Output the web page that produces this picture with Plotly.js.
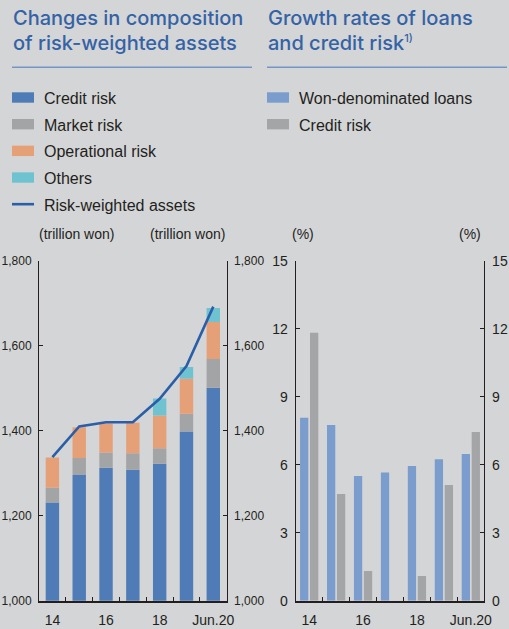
<!DOCTYPE html>
<html>
<head>
<meta charset="utf-8">
<script src="https://cdn.plot.ly/plotly-3.0.1.min.js"></script>
<style>
  html, body { margin: 0; padding: 0; background: #d4d5d7; }
  #chart { width: 509px; height: 629px; }
</style>
</head>
<body>
<div id="chart"></div>
<script>
// ---------- data ----------
const years = ['2014', '2015', '2016', '2017', '2018', '2019', 'Jun.2020'];
const tickLabels = ['14', '', '16', '', '18', '', 'Jun.20'];

// Left chart: composition of risk-weighted assets (trillion won)
const creditRisk      = [1231, 1296, 1313, 1308, 1322, 1398, 1501];
const marketRisk      = [35, 40, 36, 39, 37, 42, 68];
const operationalRisk = [71, 72, 68, 72, 77, 82, 87];
const othersRisk      = [0, 0, 0, 0, 40, 28, 33];
const riskWeightedAssets = [1338, 1410, 1420, 1420, 1475, 1552, 1692];

// Right chart: growth rates (%)
const wonLoansGrowth   = [8.07, 7.75, 5.50, 5.66, 5.94, 6.24, 6.47];
const creditRiskGrowth = [11.82, 4.71, 1.31, null, 1.09, 5.10, 7.44];

const leftTicks = [1000, 1200, 1400, 1600, 1800];
const rightTicks = [0, 3, 6, 9, 12, 15];

// ---------- styling ----------
const W = 509, H = 629;
const fx = p => p / W;
const fy = p => 1 - p / H;
const BG = '#d4d5d7';
const INK = '#231f20';
const TITLE_BLUE = '#3463a5';
const C_CREDIT = '#4f7bb6', C_MARKET = '#a3a4a6', C_OPER = '#e6a078', C_OTHER = '#6fc3d1';
const C_LINE = '#2b5ea8';
const C_LOANS = '#7b9dcd', C_CRGROW = '#a4a5a7';
const FAM = '"Liberation Sans", Arial, sans-serif';
const XTICKFONT = { family: FAM, size: 14, color: INK };
const YTICKFONT_L = { family: FAM, size: 12, color: INK };
const YTICKFONT_R = { family: FAM, size: 14, color: INK };

// stacking bases (computed from the series)
const sumArr = (...arrs) => arrs[0].map((_, i) => arrs.reduce((s, a) => s + (a[i] || 0), 0));
const baseMarket = creditRisk.slice();
const baseOper = sumArr(creditRisk, marketRisk);
const baseOther = sumArr(creditRisk, marketRisk, operationalRisk);

const BW = 0.5;
const leftBar = (name, y, base, color) => ({
  type: 'bar', name, x: years, y, base, xaxis: 'x', yaxis: 'y',
  width: BW, offset: -BW / 2,
  marker: { color, line: { width: 0 } }, hoverinfo: 'skip'
});

const traces = [
  leftBar('Credit risk', creditRisk, undefined, C_CREDIT),
  leftBar('Market risk', marketRisk, baseMarket, C_MARKET),
  leftBar('Operational risk', operationalRisk, baseOper, C_OPER),
  leftBar('Others', othersRisk, baseOther, C_OTHER),
  { type: 'scatter', mode: 'lines', name: 'Risk-weighted assets', x: years, y: riskWeightedAssets,
    xaxis: 'x', yaxis: 'y', line: { color: C_LINE, width: 2.6 }, hoverinfo: 'skip' },
  // carrier (draws nothing) so the right-hand mirror axis of the left chart is rendered
  { type: 'scatter', mode: 'none', x: years, y: riskWeightedAssets, xaxis: 'x', yaxis: 'y3',
    hoverinfo: 'skip', showlegend: false },
  { type: 'bar', name: 'Won-denominated loans', x: years, y: wonLoansGrowth, xaxis: 'x2', yaxis: 'y2',
    marker: { color: C_LOANS, line: { width: 0 } }, hoverinfo: 'skip' },
  { type: 'bar', name: 'Credit risk', x: years, y: creditRiskGrowth, xaxis: 'x2', yaxis: 'y2',
    marker: { color: C_CRGROW, line: { width: 0 } }, hoverinfo: 'skip' },
  // carrier (draws nothing) so the right-hand mirror axis of the right chart is rendered
  { type: 'scatter', mode: 'none', x: years, y: wonLoansGrowth, xaxis: 'x2', yaxis: 'y4',
    hoverinfo: 'skip', showlegend: false }
];

const yDom = [fy(600.7), fy(260.7)];
const xAxisBase = {
  type: 'category', categoryorder: 'array', categoryarray: years,
  range: [-0.5, 6.5], tickmode: 'array', tickvals: years, ticktext: tickLabels, tickangle: 0,
  tickson: 'boundaries', ticks: 'inside', ticklen: 4, tickwidth: 1, tickcolor: INK,
  showline: true, linecolor: INK, linewidth: 2, showgrid: false, zeroline: false,
  tickfont: XTICKFONT, ticklabelstandoff: 5, fixedrange: true
};
const yAxisBase = {
  ticks: 'inside', ticklen: 4, tickwidth: 1, tickcolor: INK,
  showline: true, linecolor: INK, linewidth: 1, showgrid: false, zeroline: false,
  ticklabelstandoff: 4, fixedrange: true, tickmode: 'array'
};

const annotations = [];
const ann = (text, x, y, opts = {}) => annotations.push(Object.assign({
  text, x: fx(x), y: fy(y), xref: 'paper', yref: 'paper', showarrow: false,
  xanchor: 'left', yanchor: 'middle',
  font: { family: FAM, size: 16, color: INK }
}, opts));

// titles
const titleFont = { family: 'Inter, "Liberation Sans", Arial, sans-serif', size: 20, weight: 500, color: TITLE_BLUE };
ann('Changes in composition', 11, 17.7, { font: titleFont });
ann('of risk-weighted assets', 11, 42.7, { font: titleFont });
ann('Growth rates of loans', 265.7, 17.7, { font: titleFont });
ann('and credit risk<sup><span style="font-size:11px">1)</span></sup>', 265.7, 42.7, { font: titleFont });

// legend texts
const legLeft = ['Credit risk', 'Market risk', 'Operational risk', 'Others', 'Risk-weighted assets'];
const legRight = ['Won-denominated loans', 'Credit risk'];
const rowStep = 26.67;
legLeft.forEach((t, i) => ann(t, 42.3, 98.4 + i * rowStep));
legRight.forEach((t, i) => ann(t, 297.3, 98.4 + i * rowStep));

// units
const unitFont = { family: FAM, size: 14, color: INK };
ann('(trillion won)', 76, 233.5, { xanchor: 'center', font: unitFont });
ann('(trillion won)', 187.3, 233.5, { xanchor: 'center', font: unitFont });
ann('(%)', 303.3, 233.5, { xanchor: 'center', font: unitFont });
ann('(%)', 470, 233.5, { xanchor: 'center', font: unitFont });

// shapes: title rules + legend swatches
const shapes = [
  { type: 'line', xref: 'paper', yref: 'paper', x0: fx(12), x1: fx(252), y0: fy(67.3), y1: fy(67.3), line: { color: '#7395c8', width: 1.6 } },
  { type: 'line', xref: 'paper', yref: 'paper', x0: fx(267), x1: fx(507), y0: fy(67.3), y1: fy(67.3), line: { color: '#7395c8', width: 1.6 } }
];
const swLeft = [C_CREDIT, C_MARKET, C_OPER, C_OTHER];
swLeft.forEach((c, i) => shapes.push({ type: 'rect', xref: 'paper', yref: 'paper',
  x0: fx(12), x1: fx(34), y0: fy(92.3 + i * rowStep), y1: fy(102.7 + i * rowStep),
  fillcolor: c, line: { width: 0 } }));
shapes.push({ type: 'line', xref: 'paper', yref: 'paper', x0: fx(12), x1: fx(34),
  y0: fy(97.5 + 4 * rowStep), y1: fy(97.5 + 4 * rowStep), line: { color: C_LINE, width: 2.6 } });
[C_LOANS, C_CRGROW].forEach((c, i) => shapes.push({ type: 'rect', xref: 'paper', yref: 'paper',
  x0: fx(267), x1: fx(289), y0: fy(92.3 + i * rowStep), y1: fy(102.7 + i * rowStep),
  fillcolor: c, line: { width: 0 } }));

const layout = {
  width: W, height: H, margin: { l: 0, r: 0, t: 0, b: 0 },
  paper_bgcolor: BG, plot_bgcolor: BG, showlegend: false,
  barmode: 'group', bargap: 0.26, bargroupgap: 0.17,
  font: { family: FAM, color: INK },
  xaxis: Object.assign({}, xAxisBase, { domain: [fx(39), fx(226.7)], anchor: 'y' }),
  yaxis: Object.assign({}, yAxisBase, { domain: yDom, anchor: 'x', range: [1000, 1800],
    tickvals: leftTicks, separatethousands: true, tickformat: ',d', tickfont: YTICKFONT_L }),
  yaxis3: Object.assign({}, yAxisBase, { overlaying: 'y', side: 'right', anchor: 'x', range: [1000, 1800],
    tickvals: leftTicks, separatethousands: true, tickformat: ',d', tickfont: YTICKFONT_L }),
  xaxis2: Object.assign({}, xAxisBase, { domain: [fx(295.7), fx(484.3)], anchor: 'y2' }),
  yaxis2: Object.assign({}, yAxisBase, { domain: yDom, anchor: 'x2', range: [0, 15], tickvals: rightTicks, tickfont: YTICKFONT_R }),
  yaxis4: Object.assign({}, yAxisBase, { overlaying: 'y2', side: 'right', anchor: 'x2', range: [0, 15], tickvals: rightTicks, tickfont: YTICKFONT_R }),
  annotations, shapes
};

Plotly.newPlot('chart', traces, layout, { displayModeBar: false, staticPlot: true });
</script>
</body>
</html>
